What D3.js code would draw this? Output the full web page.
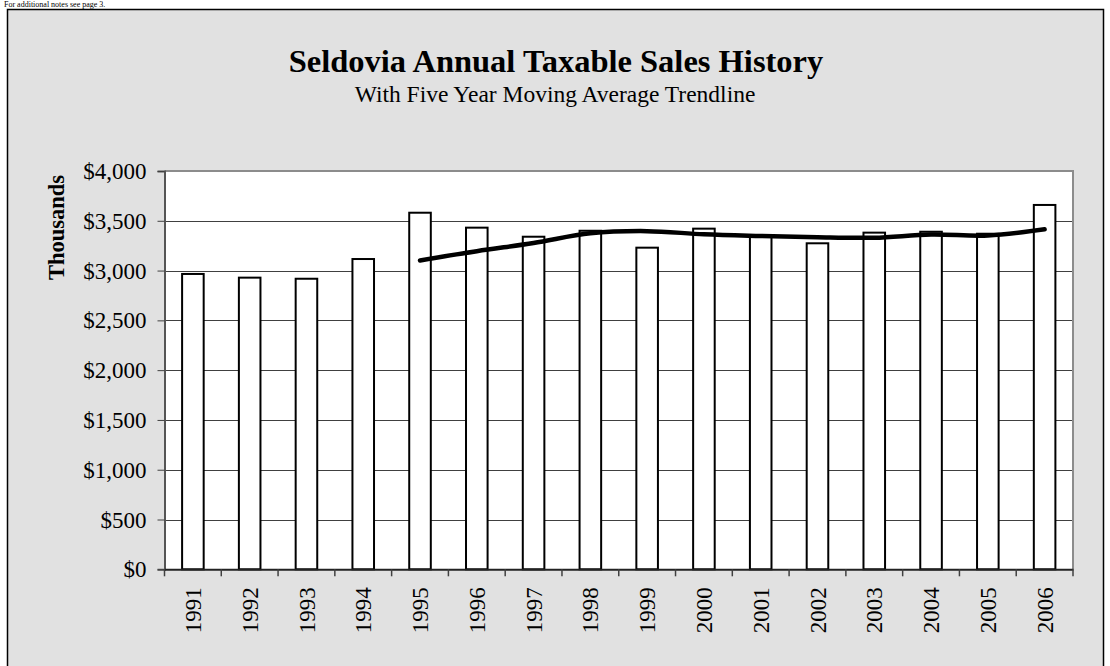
<!DOCTYPE html>
<html>
<head>
<meta charset="utf-8">
<script src="https://cdn.jsdelivr.net/npm/d3@7"></script>
<style>
  html, body { margin: 0; padding: 0; background: #ffffff; }
  svg { display: block; font-family: "Liberation Serif", "Times New Roman", serif; }
</style>
</head>
<body>
<svg id="chart" width="1110" height="666"></svg>
<script>
// ---- data ----
const years = ["1991","1992","1993","1994","1995","1996","1997","1998","1999","2000","2001","2002","2003","2004","2005","2006"];
const sales = [2966, 2929, 2918, 3116, 3581, 3431, 3340, 3400, 3230, 3421, 3345, 3274, 3381, 3390, 3370, 3659];
const maYears = ["1995","1996","1997","1998","1999","2000","2001","2002","2003","2004","2005","2006"];
const maValues = [3102, 3195, 3277, 3374, 3396, 3364, 3347, 3334, 3330, 3362, 3352, 3415];
const yTicks = [0, 500, 1000, 1500, 2000, 2500, 3000, 3500, 4000];
const titleText = "Seldovia Annual Taxable Sales History";
const subtitleText = "With Five Year Moving Average Trendline";
const yAxisTitle = "Thousands";
const noteText = "For additional notes see page 3.";

// ---- layout ----
const svg = d3.select("#chart");
const plot = { left: 164.5, right: 1073, top: 171, bottom: 569.3 };

// small note line above the chart box
svg.append("text")
  .attr("x", 4).attr("y", 7)
  .attr("font-size", 8).attr("fill", "#000")
  .text(noteText);

// outer chart box
svg.append("rect")
  .attr("x", 7.5).attr("y", 9.5).attr("width", 1096).attr("height", 700)
  .attr("fill", "#e1e1e1").attr("stroke", "#000").attr("stroke-width", 1.5);

// title
svg.append("text")
  .attr("x", 556).attr("y", 72)
  .attr("text-anchor", "middle").attr("font-size", 32.5).attr("font-weight", "bold")
  .text(titleText);
svg.append("text")
  .attr("x", 555).attr("y", 102)
  .attr("text-anchor", "middle").attr("font-size", 23.5)
  .text(subtitleText);

// scales
const x = d3.scaleBand().domain(years).range([plot.left, plot.right])
  .paddingInner(0.62).paddingOuter(0.31);
const xCenter = d => x(d) + x.bandwidth() / 2;
const y = d3.scaleLinear().domain([0, 4000]).range([plot.bottom, plot.top]);

// plot area
svg.append("rect")
  .attr("x", plot.left).attr("y", plot.top)
  .attr("width", plot.right - plot.left).attr("height", plot.bottom - plot.top)
  .attr("fill", "#ffffff");

// gridlines
svg.append("g").selectAll("line")
  .data(yTicks.filter(t => t > 0 && t < 4000))
  .join("line")
  .attr("x1", plot.left).attr("x2", plot.right)
  .attr("y1", d => Math.round(y(d)) + 0.5).attr("y2", d => Math.round(y(d)) + 0.5)
  .attr("stroke", "#404040").attr("stroke-width", 1);

// plot border top & right (gray)
svg.append("path")
  .attr("d", `M${plot.left},${plot.top} H${plot.right} V${plot.bottom}`)
  .attr("fill", "none").attr("stroke", "#8c8c8c").attr("stroke-width", 2);

// bars
svg.append("g").selectAll("rect")
  .data(years.map((yr, i) => ({ yr, v: sales[i] })))
  .join("rect")
  .attr("x", d => x(d.yr))
  .attr("y", d => y(d.v))
  .attr("width", x.bandwidth())
  .attr("height", d => y(0) - y(d.v))
  .attr("fill", "#ffffff").attr("stroke", "#000").attr("stroke-width", 2);

// moving average line
const line = d3.line()
  .x(d => xCenter(d.yr))
  .y(d => y(d.v))
  .curve(d3.curveCatmullRom.alpha(0.5));
svg.append("path")
  .datum(maYears.map((yr, i) => ({ yr, v: maValues[i] })))
  .attr("d", line)
  .attr("fill", "none").attr("stroke", "#000").attr("stroke-width", 4.5)
  .attr("stroke-linecap", "round").attr("stroke-linejoin", "round");

// y axis
const yAxis = d3.axisLeft(y).tickValues(yTicks).tickSize(7).tickPadding(11)
  .tickFormat(d => "$" + d3.format(",")(d));
const gy = svg.append("g").attr("transform", `translate(${plot.left},0)`).call(yAxis);
gy.select(".domain").attr("stroke", "#555").attr("stroke-width", 2);
gy.selectAll(".tick line").attr("stroke", "#404040");
gy.selectAll(".tick text").attr("font-size", 23).attr("fill", "#000")
  .attr("font-family", "Liberation Serif").attr("dy", "0.33em");

// x axis
const xAxis = d3.axisBottom(x).tickSize(0).tickSizeOuter(0);
const gx = svg.append("g").attr("transform", `translate(0,${plot.bottom})`).call(xAxis);
gx.select(".domain").attr("stroke", "#222").attr("stroke-width", 2);
gx.selectAll(".tick text")
  .attr("font-size", 23).attr("fill", "#000").attr("font-family", "Liberation Serif")
  .attr("text-anchor", "end")
  .attr("transform", "rotate(-90)")
  .attr("x", -18).attr("y", 0).attr("dy", "0.35em");
// tick marks at band boundaries
svg.append("g").selectAll("line")
  .data(d3.range(years.length + 1))
  .join("line")
  .attr("x1", i => plot.left + i * x.step()).attr("x2", i => plot.left + i * x.step())
  .attr("y1", plot.bottom).attr("y2", plot.bottom + 7)
  .attr("stroke", "#404040").attr("stroke-width", 1.5);

// y axis title
svg.append("text")
  .attr("transform", "translate(64,227.5) rotate(-90)")
  .attr("text-anchor", "middle").attr("font-size", 22.5).attr("font-weight", "bold")
  .text(yAxisTitle);
</script>
</body>
</html>
